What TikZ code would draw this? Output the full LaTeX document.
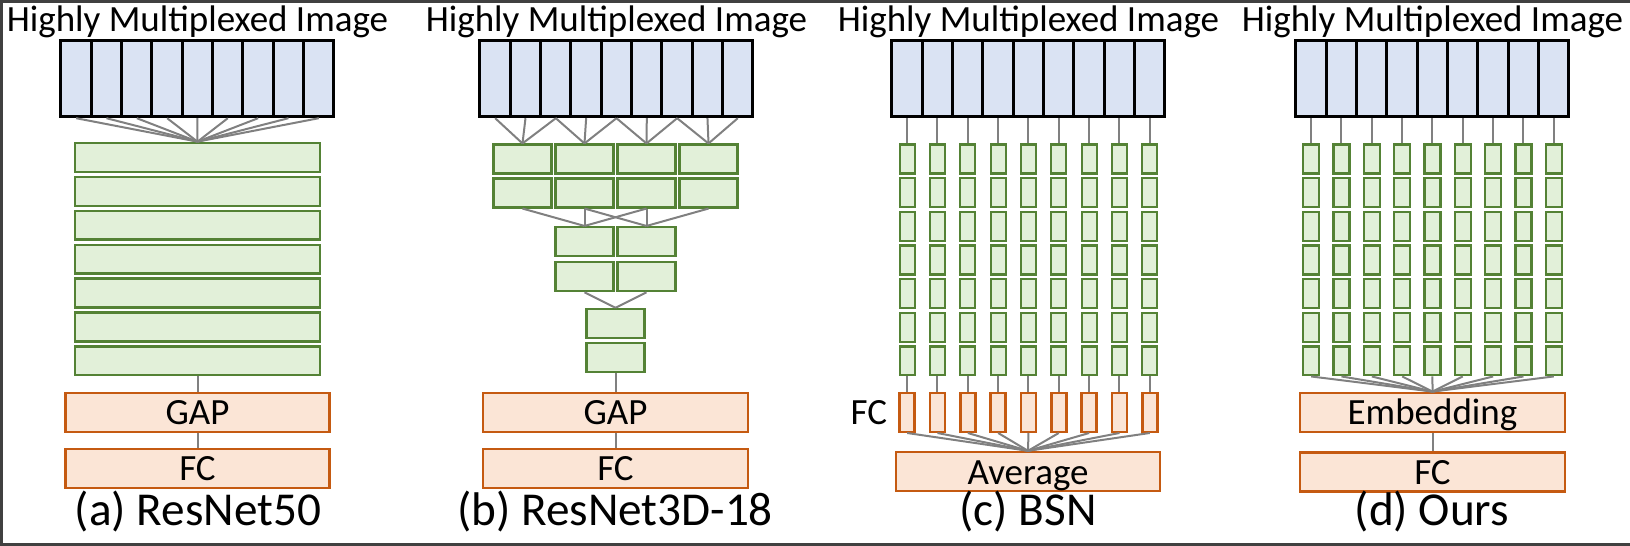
\documentclass[tikz,border=0pt]{standalone}
\usepackage{fontspec}
\setmainfont{Carlito}
\usepackage{tikz}
\usetikzlibrary{positioning}
\definecolor{imgblue}{HTML}{DAE3F3}
\definecolor{convgreen}{HTML}{548235}
\definecolor{convfill}{HTML}{E2F0D9}
\definecolor{headorange}{HTML}{C55A11}
\definecolor{headfill}{HTML}{FBE5D6}
\definecolor{linkgray}{HTML}{808080}
\definecolor{framegray}{HTML}{404040}
\tikzset{
  img-cell/.style={draw=black, line width=1.5pt, fill=imgblue, inner sep=0pt,
    minimum width=15.17pt, minimum height=38pt},
  conv-box/.style={draw=convgreen, line width=1.1pt, fill=convfill, inner sep=0pt,
    minimum height=14.45pt},
  head-box/.style={draw=headorange, line width=1.2pt, fill=headfill, inner sep=0pt,
    minimum height=19.5pt, font=\fontsize{18.5}{20}\selectfont,
    text height=12.5pt, text depth=0pt},
  head-label/.style={font=\fontsize{18.5}{20}\selectfont, inner sep=5.5pt},
  link-line/.style={draw=linkgray, line width=1pt},
  title-text/.style={font=\fontsize{18.5}{20}\selectfont, anchor=base, inner sep=0pt},
  panel-caption/.style={font=\fontsize{23.6}{26}\selectfont, anchor=base, inner sep=0pt,
    text height=14pt, text depth=4pt},
  frame-line/.style={draw=framegray, line width=1.5pt}
}
\begin{document}
\begin{tikzpicture}[x=0.5pt, y=-0.5pt]
\useasboundingbox (0,0) rectangle (1630,546);
\draw[frame-line] (1630,1.5) -- (1.5,1.5) -- (1.5,544.5) -- (1630,544.5);
\foreach \p/\x in {a/61,b/480,c/892,d/1296} {
  \node[title-text] (title\p) at (\x+136.5,31.3) {Highly Multiplexed Image};
  \foreach \i in {1,...,9}
    \node[img-cell] (img\p\i) at (\x+30.33*\i-15.17,78.7) {};
}
% (a) ResNet50
\foreach \k in {1,...,7}
  \node[conv-box, minimum width=122.5pt] (conva\k) at (197.5,123.25+33.95*\k) {};
\foreach \i in {1,...,9}
  \draw[link-line] (imga\i.south) -- (conva1.north);
\node[head-box, minimum width=132pt] (gapa) at (197.5,412.3) {GAP};
\node[head-box, minimum width=132pt] (fca) at (197.5,468.3) {FC};
\draw[link-line] (conva7.south) -- (gapa.north);
\draw[link-line] (gapa.south) -- (fca.north);
\node[panel-caption] (capa) at (198,525.5) {(a) ResNet50};
% (b) ResNet3D-18
\foreach \j in {1,...,4} {
  \node[conv-box, minimum width=29pt] (convb1r\j) at (460.5+62*\j,159) {};
  \node[conv-box, minimum width=29pt] (convb2r\j) at (460.5+62*\j,193) {};
  \foreach \d in {-1,0,1} {
    \pgfmathtruncatemacro\src{2*\j+\d}
    \draw[link-line] (imgb\src.south) -- (convb1r\j.north);
  }
}
\foreach \j in {1,2} {
  \node[conv-box, minimum width=29pt] (convb3r\j) at (522.5+62*\j,241.5) {};
  \node[conv-box, minimum width=29pt] (convb4r\j) at (522.5+62*\j,276.8) {};
  \foreach \d in {0,1,2} {
    \pgfmathtruncatemacro\src{\j+\d}
    \draw[link-line] (convb2r\src.south) -- (convb3r\j.north);
  }
}
\node[conv-box, minimum width=29pt] (convb5) at (615.5,323.3) {};
\node[conv-box, minimum width=29pt] (convb6) at (615.5,357.4) {};
\foreach \j in {1,2}
  \draw[link-line] (convb4r\j.south) -- (convb5.north);
\node[head-box, minimum width=132.5pt] (gapb) at (615.5,412.3) {GAP};
\node[head-box, minimum width=132.5pt] (fcb) at (615.5,468.3) {FC};
\draw[link-line] (convb6.south) -- (gapb.north);
\draw[link-line] (gapb.south) -- (fcb.north);
\node[panel-caption] (capb) at (615,525.5) {(b) ResNet3D-18};
% (c) BSN and (d) Ours
\foreach \p/\x/\w in {c/892/7.5pt,d/1296/8pt} {
  \foreach \i in {1,...,9} {
    \foreach \k in {1,...,7}
      \node[conv-box, minimum width=\w] (col\p\i-\k) at (\x+30.33*\i-15.17,125.35+33.65*\k) {};
    \draw[link-line] (img\p\i.south) -- (col\p\i-1.north);
  }
}
\node[head-box, minimum width=132pt] (avgc) at (1028,471.5) {Average};
\foreach \i in {1,...,9} {
  \node[head-box, minimum width=7.5pt] (fcc\i) at (876.83+30.33*\i,412.3) {};
  \draw[link-line] (colc\i-7.south) -- (fcc\i.north);
  \draw[link-line] (fcc\i.south) -- (avgc.north);
}
\node[head-label, left=0pt of fcc1] (fclabel) {FC};
\node[panel-caption] (capc) at (1028,525.5) {(c) BSN};
\node[head-box, minimum width=132.5pt] (embd) at (1432.5,412.3) {Embedding};
\node[head-box, minimum width=132.5pt] (fcd) at (1432.5,471.8) {FC};
\foreach \i in {1,...,9}
  \draw[link-line] (cold\i-7.south) -- (embd.north);
\draw[link-line] (embd.south) -- (fcd.north);
\node[panel-caption] (capd) at (1432,525.5) {(d) Ours};
\end{tikzpicture}
\end{document}
